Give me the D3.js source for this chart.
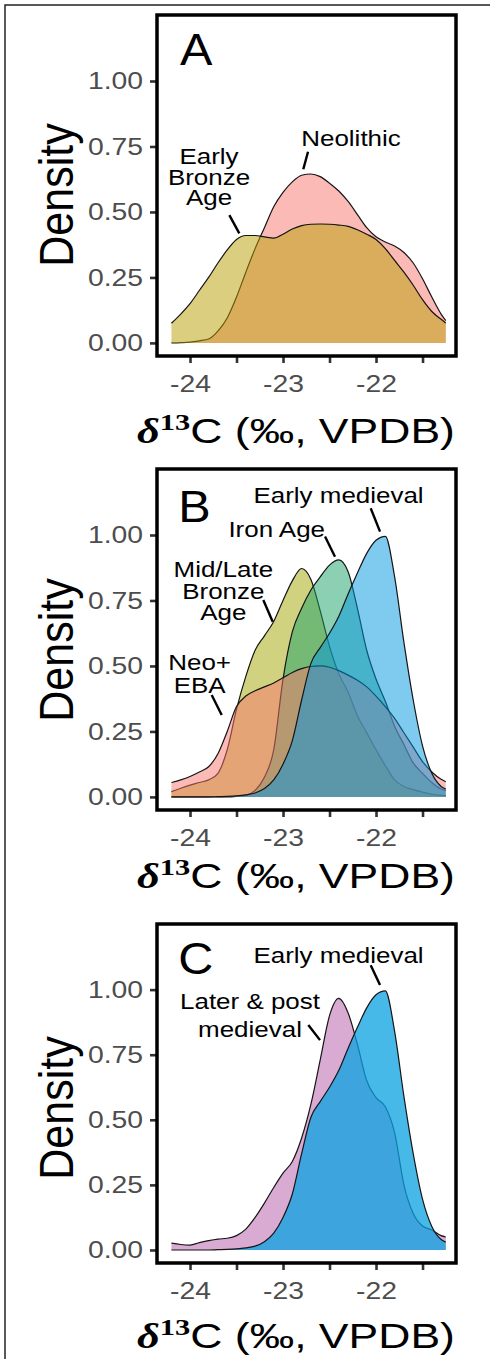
<!DOCTYPE html>
<html>
<head>
<meta charset="utf-8">
<script src="https://cdn.jsdelivr.net/npm/d3@7"></script>
<style>
  html, body { margin: 0; padding: 0; background: #fff; }
  svg { display: block; font-family: "Liberation Sans", Arial, sans-serif; }
</style>
</head>
<body>
<div id="chart"></div>
<script>
// d13C grid the densities were read at (per mil, VPDB)
const xGrid = [-24.2, -24.1, -24.0, -23.9, -23.8, -23.7, -23.6, -23.5, -23.4, -23.3, -23.2,
  -23.1, -23.0, -22.9, -22.8, -22.7, -22.6, -22.5, -22.4, -22.3, -22.2, -22.1,
  -22.0, -21.9, -21.8, -21.7, -21.6, -21.5, -21.4, -21.3, -21.25];

// panel A
const neolithic = [0.000, 0.001, 0.003, 0.008, 0.015, 0.045, 0.095, 0.175, 0.270, 0.360, 0.440,
  0.520, 0.575, 0.615, 0.640, 0.645, 0.635, 0.610, 0.580, 0.540, 0.490, 0.440,
  0.405, 0.385, 0.370, 0.345, 0.305, 0.245, 0.175, 0.110, 0.085];
const earlyBronzeAge = [0.075, 0.110, 0.150, 0.200, 0.250, 0.305, 0.355, 0.395, 0.410, 0.410, 0.405,
  0.400, 0.415, 0.435, 0.448, 0.453, 0.454, 0.453, 0.450, 0.445, 0.432, 0.415,
  0.395, 0.360, 0.315, 0.270, 0.220, 0.165, 0.120, 0.090, 0.076];

// panel B
const neoEba = [0.055, 0.065, 0.078, 0.095, 0.115, 0.165, 0.250, 0.345, 0.385, 0.405, 0.420,
  0.435, 0.455, 0.475, 0.490, 0.498, 0.500, 0.495, 0.482, 0.465, 0.445, 0.420,
  0.385, 0.345, 0.300, 0.245, 0.190, 0.135, 0.095, 0.067, 0.058];
const midLateBronzeAge = [0.020, 0.033, 0.045, 0.055, 0.065, 0.090, 0.180, 0.335, 0.460, 0.560, 0.615,
  0.670, 0.750, 0.825, 0.872, 0.830, 0.710, 0.575, 0.470, 0.400, 0.310, 0.245,
  0.180, 0.120, 0.065, 0.040, 0.028, 0.018, 0.010, 0.006, 0.005];
const ironAge = [0.000, 0.000, 0.000, 0.000, 0.000, 0.000, 0.000, 0.002, 0.006, 0.025, 0.075,
  0.180, 0.450, 0.630, 0.720, 0.790, 0.840, 0.885, 0.905, 0.860, 0.720, 0.560,
  0.450, 0.365, 0.270, 0.200, 0.130, 0.090, 0.055, 0.030, 0.025];
const earlyMedieval = [0.000, 0.000, 0.000, 0.000, 0.000, 0.001, 0.002, 0.004, 0.008, 0.015, 0.032,
  0.065, 0.125, 0.215, 0.370, 0.510, 0.570, 0.625, 0.690, 0.775, 0.855, 0.930,
  0.980, 0.995, 0.840, 0.590, 0.370, 0.195, 0.090, 0.040, 0.030];

// panel C
const laterPostMedieval = [0.026, 0.021, 0.019, 0.028, 0.036, 0.042, 0.045, 0.055, 0.080, 0.125, 0.180,
  0.240, 0.295, 0.340, 0.430, 0.560, 0.730, 0.900, 0.966, 0.910, 0.790, 0.650,
  0.585, 0.550, 0.450, 0.250, 0.140, 0.092, 0.077, 0.055, 0.050];

const xTicks = [-24, -23.5, -23, -22.5, -22, -21.5];
const xTickLabels = ['-24', '', '-23', '', '-22', ''];
const yTicks = [0, 0.25, 0.5, 0.75, 1];
const yTickLabels = ['0.00', '0.25', '0.50', '0.75', '1.00'];

const width = 490;
const height = 1359;
const plotLeft = 157;
const plotRight = 456;
const xDomain = [-24.355, -21.14];
const yDomain = [-0.05, 1.252];
const stretch = 1.18; // glyphs in the figure are a little wider than Arial

const panels = [
  {
    letter: 'A', top: 15, bottom: 356, titleY: 443, densityY: 195,
    letterPos: [-24.108, 1.061],
    series: [
      { name: 'Neolithic', values: neolithic, color: '#F8766D', alpha: 0.5 },
      { name: 'Early Bronze Age', values: earlyBronzeAge, color: '#B79F00', alpha: 0.5 }
    ],
    notes: [
      { lines: ['Neolithic'], at: [-22.269, 0.753], step: 0, leader: [[-22.731, 0.730], [-22.782, 0.663]] },
      { lines: ['Early', 'Bronze', 'Age'], at: [-23.796, 0.683], step: 20.5, leader: [[-23.577, 0.488], [-23.470, 0.418]] }
    ]
  },
  {
    letter: 'B', top: 469, bottom: 810, titleY: 888, densityY: 650,
    letterPos: [-24.126, 1.051],
    // drawing order follows the blend colours seen in the figure
    series: [
      { name: 'Mid/Late Bronze Age', values: midLateBronzeAge, color: '#A3A500', alpha: 0.5 },
      { name: 'Iron Age', values: ironAge, color: '#19A16A', alpha: 0.5 },
      { name: 'Neo+EBA', values: neoEba, color: '#F8766D', alpha: 0.5 },
      { name: 'Early medieval', values: earlyMedieval, color: '#0096E0', alpha: 0.5 }
    ],
    notes: [
      { lines: ['Early medieval'], at: [-22.403, 1.121], step: 0, leader: [[-22.057, 1.102], [-21.957, 1.013]] },
      { lines: ['Iron Age'], at: [-23.068, 0.991], step: 0, leader: [[-22.548, 0.994], [-22.441, 0.917]] },
      { lines: ['Mid/Late', 'Bronze', 'Age'], at: [-23.642, 0.838], step: 21.5, leader: [[-23.212, 0.752], [-23.111, 0.669]] },
      { lines: ['Neo+', 'EBA'], at: [-23.897, 0.485], step: 23, leader: [[-23.767, 0.389], [-23.659, 0.313]] }
    ]
  },
  {
    letter: 'C', top: 924, bottom: 1263, titleY: 1348, densityY: 1108,
    letterPos: [-24.126, 1.06],
    series: [
      { name: 'Later & post medieval', values: laterPostMedieval, color: '#C071B4', alpha: 0.6 },
      { name: 'Early medieval', values: earlyMedieval, color: '#0AA2E2', alpha: 0.75 }
    ],
    notes: [
      { lines: ['Early medieval'], at: [-22.403, 1.101], step: 0, leader: [[-22.057, 1.094], [-21.957, 1.018]] },
      { lines: ['Later & post', 'medieval'], at: [-23.355, 0.924], step: 27.5, leader: [[-22.728, 0.864], [-22.602, 0.806]] }
    ]
  }
];

const svg = d3.select('#chart').append('svg')
  .attr('width', width)
  .attr('height', height);

// figure frame (only the top and left edges show in the original)
svg.append('path')
  .attr('d', `M5,${height} L5,5 L${width},5`)
  .attr('fill', 'none')
  .attr('stroke', '#222')
  .attr('stroke-width', 1.5);

function stretchText(sel) {
  sel.each(function () {
    const t = d3.select(this);
    const tx = +t.attr('x') || 0;
    const ty = +t.attr('y') || 0;
    t.attr('x', null).attr('y', null)
      .attr('transform', `translate(${tx},${ty}) scale(${stretch},1)`);
  });
}

function drawPanel(p) {
  const x = d3.scaleLinear().domain(xDomain).range([plotLeft, plotRight]);
  const y = d3.scaleLinear().domain(yDomain).range([p.bottom, p.top]);
  const g = svg.append('g').attr('class', `panel-${p.letter}`);

  const area = d3.area()
    .x((d, i) => x(xGrid[i]))
    .y0(y(0))
    .y1(d => y(d))
    .curve(d3.curveMonotoneX);
  const line = d3.line()
    .x((d, i) => x(xGrid[i]))
    .y(d => y(d))
    .curve(d3.curveMonotoneX);

  // each group: fill then its upper outline, so later fills veil earlier lines
  p.series.forEach(s => {
    g.append('path')
      .datum(s.values)
      .attr('d', area)
      .attr('fill', s.color)
      .attr('fill-opacity', s.alpha);
    g.append('path')
      .datum(s.values)
      .attr('d', line)
      .attr('fill', 'none')
      .attr('stroke', '#151515')
      .attr('stroke-width', 1.2);
  });

  // axes
  const yAxis = d3.axisLeft(y)
    .tickValues(yTicks)
    .tickFormat((d, i) => yTickLabels[i])
    .tickSize(7)
    .tickPadding(7);
  const xAxis = d3.axisBottom(x)
    .tickValues(xTicks)
    .tickFormat((d, i) => xTickLabels[i])
    .tickSize(7)
    .tickPadding(12);

  const ya = g.append('g')
    .attr('transform', `translate(${plotLeft},0)`)
    .call(yAxis);
  const xa = g.append('g')
    .attr('transform', `translate(0,${p.bottom})`)
    .call(xAxis);

  [ya, xa].forEach(a => {
    a.select('.domain').remove();
    a.selectAll('.tick line').attr('stroke', '#333').attr('stroke-width', 2.6);
    a.selectAll('.tick text')
      .attr('fill', '#4d4d4d')
      .attr('font-size', 24)
      .attr('font-family', '"Liberation Sans", Arial, sans-serif')
      .call(stretchText);
  });

  // panel border
  g.append('rect')
    .attr('x', plotLeft)
    .attr('y', p.top)
    .attr('width', plotRight - plotLeft)
    .attr('height', p.bottom - p.top)
    .attr('fill', 'none')
    .attr('stroke', '#000')
    .attr('stroke-width', 3.5);

  // panel letter
  g.append('text')
    .attr('transform', `translate(${x(p.letterPos[0])},${y(p.letterPos[1])}) scale(1.08,1)`)
    .attr('font-size', 45)
    .text(p.letter);

  // annotations with leader lines
  p.notes.forEach(n => {
    n.lines.forEach((str, i) => {
      g.append('text')
        .attr('transform', `translate(${x(n.at[0])},${y(n.at[1]) + i * n.step}) scale(${stretch},1)`)
        .attr('text-anchor', 'middle')
        .attr('font-size', 22)
        .text(str);
    });
    g.append('line')
      .attr('x1', x(n.leader[0][0]))
      .attr('y1', y(n.leader[0][1]))
      .attr('x2', x(n.leader[1][0]))
      .attr('y2', y(n.leader[1][1]))
      .attr('stroke', '#000')
      .attr('stroke-width', 2.4);
  });

  // y title
  g.append('text')
    .attr('transform', `translate(73,${p.densityY}) scale(1.12,1) rotate(-90)`)
    .attr('text-anchor', 'middle')
    .attr('font-size', 43)
    .text('Density');

  // x title: d13C (per mil, VPDB)
  const title = g.append('text')
    .attr('font-size', 35);
  title.append('tspan')
    .attr('font-family', '"Liberation Serif", "DejaVu Serif", serif')
    .attr('font-style', 'italic')
    .attr('font-weight', 'bold')
    .text('δ');
  title.append('tspan')
    .attr('font-family', '"Liberation Serif", "DejaVu Serif", serif')
    .attr('font-weight', 'bold')
    .attr('font-size', 24)
    .attr('dy', -13)
    .text('13');
  title.append('tspan')
    .attr('dy', 13)
    .text('C (‰, VPDB)');
  const tw = title.node().getComputedTextLength();
  title.attr('transform', `translate(137,${p.titleY}) scale(${318 / tw},1)`);
}

panels.forEach(drawPanel);
</script>
</body>
</html>
